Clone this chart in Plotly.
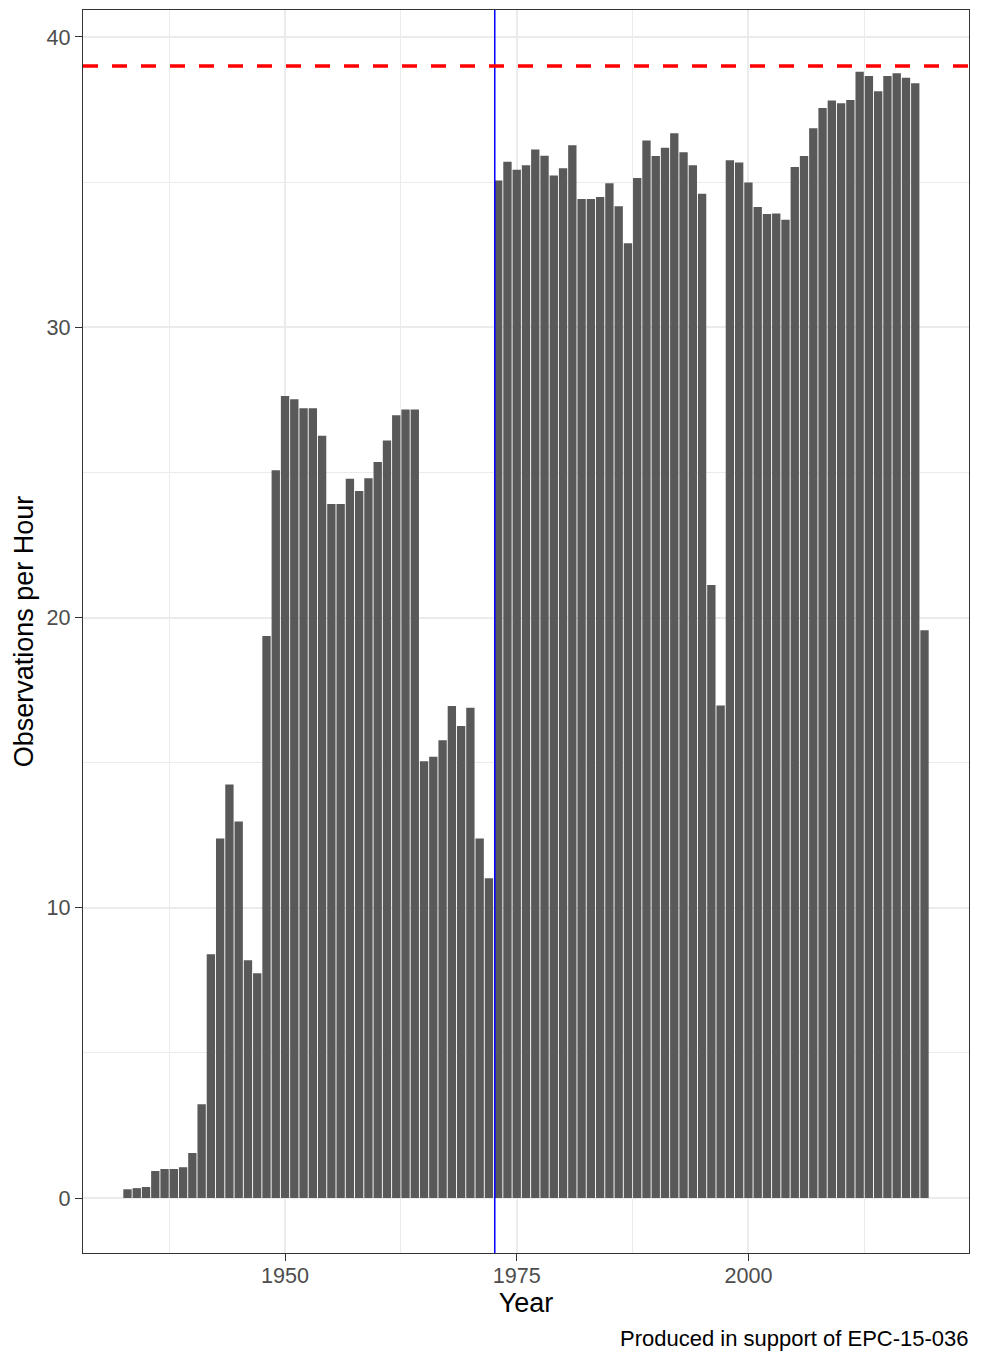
import plotly.graph_objects as go

years = list(range(1933, 2020))
obs_per_hour = [
    0.30, 0.34, 0.38, 0.93, 1.00, 1.00, 1.06, 1.55, 3.23, 8.40,      # 1933-1942
    12.39, 14.25, 12.97, 8.19, 7.74, 19.36, 25.07, 27.63, 27.52, 27.21,  # 1943-1952
    27.21, 26.26, 23.91, 23.91, 24.78, 24.36, 24.80, 25.36, 26.10, 26.97,  # 1953-1962
    27.17, 27.17, 15.05, 15.20, 15.77, 16.95, 16.26, 16.89, 12.39, 11.02,  # 1963-1972
    35.06, 35.70, 35.43, 35.58, 36.12, 35.91, 35.23, 35.48, 36.27, 34.42,  # 1973-1982
    34.42, 34.49, 34.96, 34.17, 32.89, 35.14, 36.43, 35.90, 36.18, 36.68,  # 1983-1992
    36.03, 35.58, 34.60, 21.12, 16.97, 35.75, 35.68, 34.99, 34.14, 33.90,  # 1993-2002
    33.92, 33.70, 35.52, 35.90, 36.86, 37.55, 37.81, 37.72, 37.83, 38.80,  # 2003-2012
    38.66, 38.13, 38.66, 38.75, 38.60, 38.41, 19.56,                     # 2013-2019
]
x_ticks = [1950, 1975, 2000]
y_ticks = [0, 10, 20, 30, 40]
target_line = 39
change_year = 1972.63
caption = "Produced in support of EPC-15-036"

FONT = "Liberation Sans, Arial, sans-serif"

fig = go.Figure()
fig.add_trace(go.Bar(
    x=years, y=obs_per_hour,
    marker=dict(color="#595959", line=dict(width=0)),
    showlegend=False, hoverinfo="skip",
))

fig.add_shape(type="line", xref="x", yref="paper", x0=change_year, x1=change_year,
              y0=0, y1=1, line=dict(color="#0000FF", width=1.5), layer="above")
fig.add_shape(type="line", xref="paper", yref="y", x0=0, x1=1,
              y0=target_line, y1=target_line,
              line=dict(color="#FF0000", width=3.5, dash="15px,14px"), layer="above")

fig.add_annotation(text=caption, xref="paper", yref="paper", x=1.002, y=-0.0685,
                   xanchor="right", yanchor="middle", showarrow=False,
                   font=dict(family=FONT, size=22, color="#000000"))

axis_common = dict(
    showline=True, linecolor="#333333", linewidth=1.3, mirror=True,
    ticks="outside", ticklen=7, tickwidth=1.3, tickcolor="#333333",
    showgrid=True, gridcolor="#EBEBEB", gridwidth=2, zeroline=False,
    tickfont=dict(family=FONT, size=21.6, color="#4D4D4D"),
)

fig.update_xaxes(
    range=[1928.2, 2023.8], tickvals=x_ticks, ticklabelstandoff=-4,
    minor=dict(tickvals=[1937.5, 1962.5, 1987.5, 2012.5], showgrid=True,
               gridcolor="#EBEBEB", gridwidth=1.2, ticks=""),
    title=dict(text="Year", font=dict(family=FONT, size=27, color="#000000"), standoff=4),
    **axis_common,
)
fig.update_yaxes(
    range=[-1.895, 40.93], tickvals=y_ticks,
    minor=dict(tickvals=[5, 15, 25, 35], showgrid=True,
               gridcolor="#EBEBEB", gridwidth=1.2, ticks=""),
    title=dict(text="Observations per Hour", font=dict(family=FONT, size=27, color="#000000"), standoff=5),
    **axis_common,
)

fig.update_layout(
    width=981, height=1362,
    margin=dict(l=83, r=12, t=10, b=109, autoexpand=False),
    plot_bgcolor="#FFFFFF", paper_bgcolor="#FFFFFF",
    bargap=0.1,
    font=dict(family=FONT),
)

fig.write_html("out.html", config={"displayModeBar": False},
               post_script="document.body.style.margin='0';document.body.style.overflow='hidden';")
